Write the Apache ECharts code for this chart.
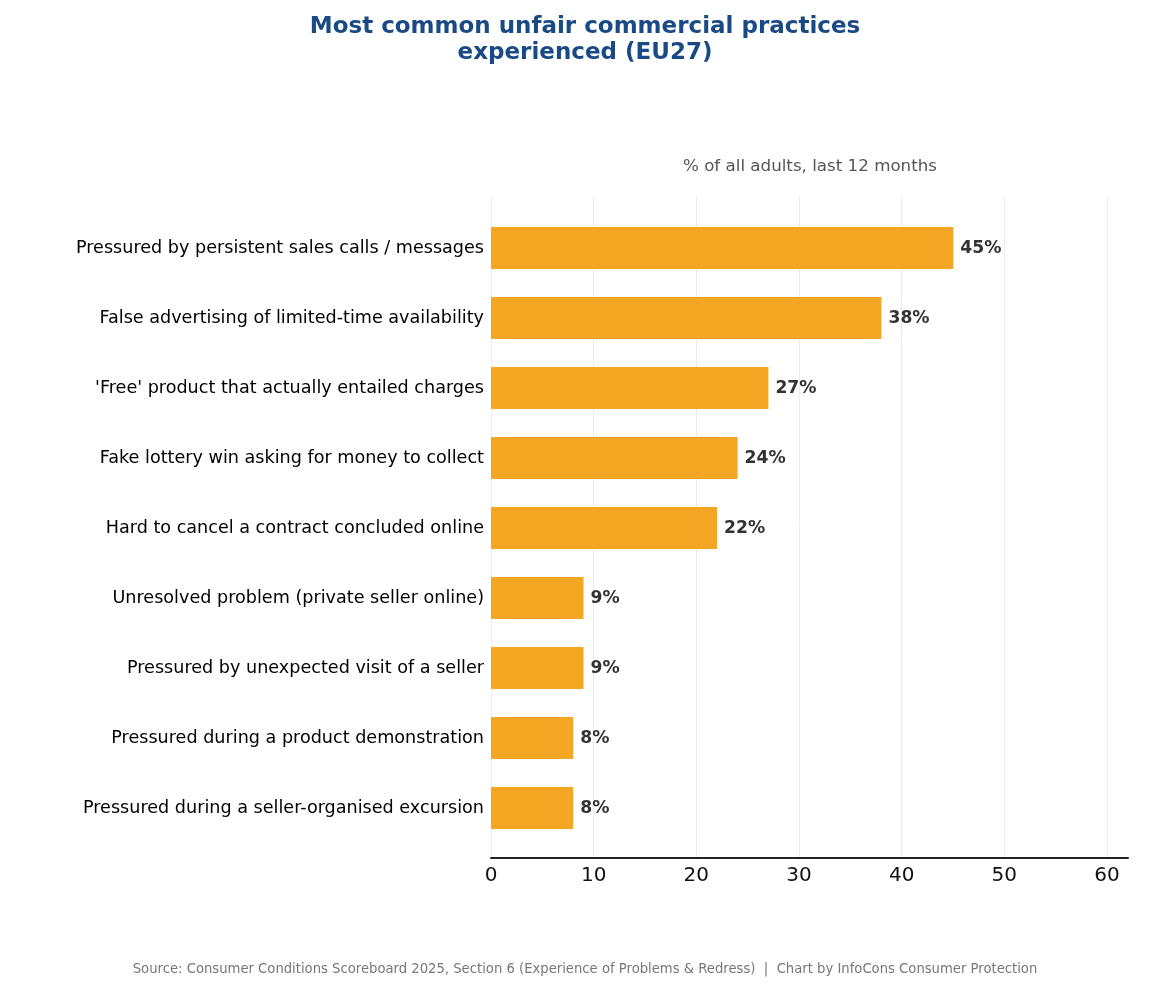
<!DOCTYPE html>
<html>
<head>
<meta charset="utf-8">
<script src="https://cdn.jsdelivr.net/npm/echarts@6/dist/echarts.min.js"></script>
<style>
  html, body { margin: 0; padding: 0; background: #fff; }
  #chart { width: 1170px; height: 987px; }
</style>
</head>
<body>
<div id="chart"></div>
<script>
// Datos del gráfico
const categorias = [
  'Pressured by persistent sales calls / messages',
  'False advertising of limited-time availability',
  "'Free' product that actually entailed charges",
  'Fake lottery win asking for money to collect',
  'Hard to cancel a contract concluded online',
  'Unresolved problem (private seller online)',
  'Pressured by unexpected visit of a seller',
  'Pressured during a product demonstration',
  'Pressured during a seller-organised excursion'
];
const valores = [45, 38, 27, 24, 22, 9, 9, 8, 8];
const ticksX = [0, 10, 20, 30, 40, 50, 60];

const fuente = 'DejaVu Sans, sans-serif';
const ejeMax = 62;

let myChart = echarts.init(document.getElementById('chart'));
myChart.setOption({
  animation: false,
  title: [
    {
      text: 'Most common unfair commercial practices\nexperienced (EU27)',
      left: 'center',
      top: 9,
      textStyle: { color: '#1a4a86', fontSize: 23, fontWeight: 'bold', fontFamily: fuente, lineHeight: 26 }
    },
    {
      text: '% of all adults, last 12 months',
      left: 805,
      textAlign: 'center',
      top: 153,
      textStyle: { color: '#555555', fontSize: 16.7, fontWeight: 'normal', fontFamily: fuente }
    },
    {
      text: 'Source: Consumer Conditions Scoreboard 2025, Section 6 (Experience of Problems & Redress)  |  Chart by InfoCons Consumer Protection',
      left: 'center',
      top: 958,
      textStyle: { color: '#777777', fontSize: 13.2, fontWeight: 'normal', fontFamily: fuente }
    }
  ],
  grid: [
    // fondo: cuadrícula vertical y etiquetas del eje x (0 a 60)
    { left: 491, right: 63, top: 197, bottom: 129, containLabel: false },
    // barras (eje hasta 62)
    { left: 491, right: 42, top: 213, bottom: 144, containLabel: false }
  ],
  xAxis: [
    {
      gridIndex: 0,
      type: 'value',
      min: 0,
      max: 60,
      interval: 10,
      axisLine: { show: false },
      axisTick: { show: false },
      splitLine: { show: true, lineStyle: { color: '#ebebeb', width: 1 } },
      axisLabel: {
        color: '#111',
        fontSize: 20,
        fontFamily: fuente,
        margin: 8,
        formatter: v => ticksX.includes(v) ? String(v) : ''
      }
    },
    {
      gridIndex: 1,
      type: 'value',
      min: 0,
      max: ejeMax,
      offset: 15,
      axisLine: { show: true, onZero: false, lineStyle: { color: '#222', width: 2 } },
      axisTick: { show: false },
      axisLabel: { show: false },
      splitLine: { show: false }
    }
  ],
  yAxis: [
    {
      gridIndex: 0,
      type: 'value',
      min: 0,
      max: 1,
      show: false
    },
    {
      gridIndex: 1,
      type: 'category',
      inverse: true,
      data: categorias,
      axisLine: { show: false },
      axisTick: { show: false },
      axisLabel: { color: '#000', fontSize: 17.6, fontFamily: fuente, margin: 7, padding: [4, 0, 0, 0] }
    }
  ],
  series: [
    {
      type: 'bar',
      xAxisIndex: 1,
      yAxisIndex: 1,
      data: valores,
      barWidth: 42,
      itemStyle: { color: '#f5a623' },
      label: {
        show: true,
        position: 'right',
        distance: 7,
        offset: [0, 1],
        formatter: p => p.value + '%',
        color: '#333',
        fontSize: 17.2,
        fontWeight: 'bold',
        fontFamily: fuente
      }
    }
  ]
});
</script>
</body>
</html>
